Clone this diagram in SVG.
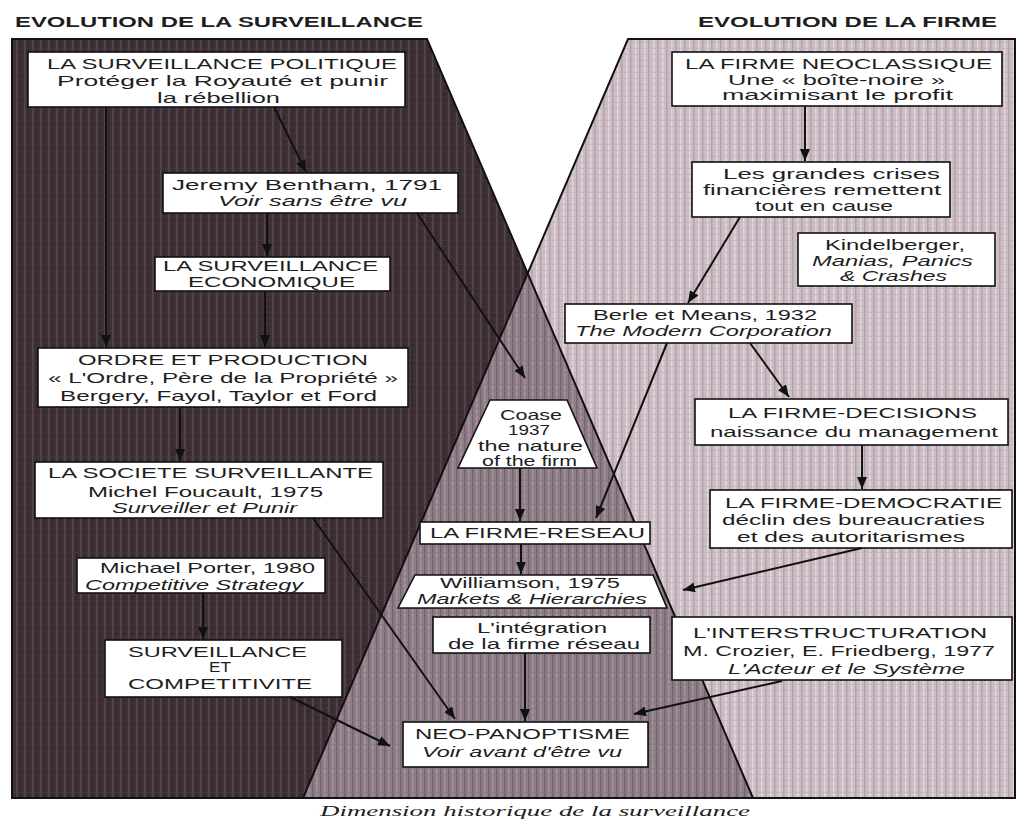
<svg xmlns="http://www.w3.org/2000/svg" width="1019" height="822" viewBox="0 0 1019 822">
<style>
.t{font-family:"Liberation Sans",Arial,sans-serif;font-size:15px;fill:#1e1e1e}
.s{font-size:14px}
.i{font-style:italic}
.h{font-family:"Liberation Sans",Arial,sans-serif;font-size:14px;font-weight:bold;fill:#1e1e1e}
.cap{font-family:"Liberation Serif","Times New Roman",serif;font-size:15px;font-style:italic;fill:#222}
.box{fill:#fff;stroke:#111;stroke-width:1.6}
.edge{fill:none;stroke:#111;stroke-width:2}
.c{fill:none;stroke:#111;stroke-width:2;marker-end:url(#ah)}
</style>
<defs>
<marker id="ah" markerUnits="userSpaceOnUse" markerWidth="13" markerHeight="10" refX="12" refY="5" orient="auto">
<path d="M0,0 L12,5 L0,10 z" fill="#111"/>
</marker>
<pattern id="pDark" patternUnits="userSpaceOnUse" width="8" height="6">
<rect width="8" height="6" fill="#3d2f35"/>
<rect x="0" width="1.5" height="6" fill="#56474d"/>
<rect x="4" width="1" height="6" fill="#30242a"/>
<rect width="8" height="1" fill="#4a3b41" opacity="0.6"/>
</pattern>
<pattern id="pLight" patternUnits="userSpaceOnUse" width="9" height="6">
<rect width="9" height="6" fill="#cdbdc5"/>
<rect x="0" width="1.5" height="6" fill="#b4a1ab"/>
<rect x="5" width="1.5" height="6" fill="#e2d7dd"/>
<rect width="9" height="1" fill="#bfaeb7" opacity="0.6"/>
</pattern>
<pattern id="pMid" patternUnits="userSpaceOnUse" width="8" height="6">
<rect width="8" height="6" fill="#8f7e87"/>
<rect x="0" width="1.5" height="6" fill="#766570"/>
<rect x="4" width="1.5" height="6" fill="#a5949d"/>
<rect width="8" height="1" fill="#85747d" opacity="0.6"/>
</pattern>
</defs>
<rect width="1019" height="822" fill="#fff"/>

<g id="background">
<polygon points="12,39 427,39 753,798 12,798" fill="url(#pDark)"/>
<polygon points="628,39 1015,39 1015,798 303,798" fill="url(#pLight)"/>
<polygon points="527.7,273.4 753,798 303,798" fill="url(#pMid)"/>
<polygon points="12,39 427,39 753,798 12,798" class="edge"/>
<polygon points="628,39 1015,39 1015,798 303,798" class="edge"/>
</g>

<g id="titles">
<text class="h" x="15" y="27" textLength="408" lengthAdjust="spacingAndGlyphs">EVOLUTION DE LA SURVEILLANCE</text>
<text class="h" x="698" y="27" textLength="299" lengthAdjust="spacingAndGlyphs">EVOLUTION DE LA FIRME</text>
</g>

<g id="n-politique">
<rect class="box" x="28" y="52" width="377" height="55"/>
<text class="t" x="47" y="69" textLength="350" lengthAdjust="spacingAndGlyphs">LA SURVEILLANCE POLITIQUE</text>
<text class="t" x="57" y="86" textLength="331" lengthAdjust="spacingAndGlyphs">Protéger la Royauté et punir</text>
<text class="t" x="157" y="103" textLength="123" lengthAdjust="spacingAndGlyphs">la rébellion</text>
</g>

<g id="n-bentham">
<rect class="box" x="163" y="173" width="295" height="40"/>
<text class="t" x="172" y="190" textLength="270" lengthAdjust="spacingAndGlyphs">Jeremy Bentham, 1791</text>
<text class="t i" x="218" y="206" textLength="189" lengthAdjust="spacingAndGlyphs">Voir sans être vu</text>
</g>

<g id="n-economique">
<rect class="box" x="155" y="257" width="235" height="34"/>
<text class="t" x="163" y="271" textLength="215" lengthAdjust="spacingAndGlyphs">LA SURVEILLANCE</text>
<text class="t" x="188" y="287" textLength="167" lengthAdjust="spacingAndGlyphs">ECONOMIQUE</text>
</g>

<g id="n-ordre">
<rect class="box" x="38" y="348" width="370" height="59"/>
<text class="t" x="78" y="365" textLength="290" lengthAdjust="spacingAndGlyphs">ORDRE ET PRODUCTION</text>
<text class="t" x="48" y="383" textLength="350" lengthAdjust="spacingAndGlyphs">« L'Ordre, Père de la Propriété »</text>
<text class="t" x="60" y="401" textLength="317" lengthAdjust="spacingAndGlyphs">Bergery, Fayol, Taylor et Ford</text>
</g>

<g id="n-societe">
<rect class="box" x="35" y="462" width="348" height="56"/>
<text class="t" x="48" y="478" textLength="325" lengthAdjust="spacingAndGlyphs">LA SOCIETE SURVEILLANTE</text>
<text class="t" x="88" y="497" textLength="235" lengthAdjust="spacingAndGlyphs">Michel Foucault, 1975</text>
<text class="t i" x="112" y="513" textLength="185" lengthAdjust="spacingAndGlyphs">Surveiller et Punir</text>
</g>

<g id="n-porter">
<rect class="box" x="77" y="558" width="248" height="35"/>
<text class="t" x="100" y="573" textLength="215" lengthAdjust="spacingAndGlyphs">Michael Porter, 1980</text>
<text class="t i" x="85" y="590" textLength="218" lengthAdjust="spacingAndGlyphs">Competitive Strategy</text>
</g>

<g id="n-competitivite">
<rect class="box" x="105" y="640" width="237" height="57"/>
<text class="t" x="128" y="657" textLength="179" lengthAdjust="spacingAndGlyphs">SURVEILLANCE</text>
<text class="t" x="209" y="672" textLength="22" lengthAdjust="spacingAndGlyphs">ET</text>
<text class="t" x="128" y="689" textLength="184" lengthAdjust="spacingAndGlyphs">COMPETITIVITE</text>
</g>

<g id="n-neopanoptisme">
<rect class="box" x="403" y="722" width="245" height="45"/>
<text class="t" x="415" y="739" textLength="215" lengthAdjust="spacingAndGlyphs">NEO-PANOPTISME</text>
<text class="t i" x="422" y="757" textLength="200" lengthAdjust="spacingAndGlyphs">Voir avant d'être vu</text>
</g>

<g id="n-neoclassique">
<rect class="box" x="672" y="52" width="330" height="54"/>
<text class="t" x="685" y="69" textLength="307" lengthAdjust="spacingAndGlyphs">LA FIRME NEOCLASSIQUE</text>
<text class="t" x="728" y="85" textLength="217" lengthAdjust="spacingAndGlyphs">Une « boîte-noire »</text>
<text class="t" x="722" y="100" textLength="231" lengthAdjust="spacingAndGlyphs">maximisant le profit</text>
</g>

<g id="n-crises">
<rect class="box" x="692" y="162" width="258" height="55"/>
<text class="t s" x="723" y="179" textLength="217" lengthAdjust="spacingAndGlyphs">Les grandes crises</text>
<text class="t s" x="703" y="195" textLength="238" lengthAdjust="spacingAndGlyphs">financières remettent</text>
<text class="t s" x="755" y="211" textLength="138" lengthAdjust="spacingAndGlyphs">tout en cause</text>
</g>

<g id="n-kindelberger">
<rect class="box" x="798" y="233" width="197" height="53"/>
<text class="t" x="825" y="250" textLength="140" lengthAdjust="spacingAndGlyphs">Kindelberger,</text>
<text class="t i" x="812" y="266" textLength="161" lengthAdjust="spacingAndGlyphs">Manias, Panics</text>
<text class="t i" x="840" y="281" textLength="107" lengthAdjust="spacingAndGlyphs">&amp; Crashes</text>
</g>

<g id="n-berle">
<rect class="box" x="565" y="304" width="287" height="39"/>
<text class="t" x="593" y="320" textLength="224" lengthAdjust="spacingAndGlyphs">Berle et Means, 1932</text>
<text class="t i" x="575" y="336" textLength="257" lengthAdjust="spacingAndGlyphs">The Modern Corporation</text>
</g>

<g id="n-decisions">
<rect class="box" x="695" y="399" width="313" height="46"/>
<text class="t" x="728" y="418" textLength="249" lengthAdjust="spacingAndGlyphs">LA FIRME-DECISIONS</text>
<text class="t" x="710" y="437" textLength="288" lengthAdjust="spacingAndGlyphs">naissance du management</text>
</g>

<g id="n-democratie">
<rect class="box" x="710" y="490" width="302" height="58"/>
<text class="t" x="725" y="508" textLength="277" lengthAdjust="spacingAndGlyphs">LA FIRME-DEMOCRATIE</text>
<text class="t" x="722" y="525" textLength="263" lengthAdjust="spacingAndGlyphs">déclin des bureaucraties</text>
<text class="t" x="737" y="542" textLength="228" lengthAdjust="spacingAndGlyphs">et des autoritarismes</text>
</g>

<g id="n-interstructuration">
<rect class="box" x="672" y="617" width="340" height="63"/>
<text class="t" x="693" y="638" textLength="294" lengthAdjust="spacingAndGlyphs">L'INTERSTRUCTURATION</text>
<text class="t" x="683" y="656" textLength="312" lengthAdjust="spacingAndGlyphs">M. Crozier, E. Friedberg, 1977</text>
<text class="t i" x="728" y="674" textLength="237" lengthAdjust="spacingAndGlyphs">L'Acteur et le Système</text>
</g>

<g id="n-coase">
<polygon class="box" points="490,400 567,400 597,468 458,468"/>
<text class="t" x="500" y="420" textLength="62" lengthAdjust="spacingAndGlyphs">Coase</text>
<text class="t" x="508" y="435" textLength="42" lengthAdjust="spacingAndGlyphs">1937</text>
<text class="t" x="478" y="451" textLength="105" lengthAdjust="spacingAndGlyphs">the nature</text>
<text class="t" x="482" y="466" textLength="95" lengthAdjust="spacingAndGlyphs">of the firm</text>
</g>

<g id="n-firme-reseau">
<rect class="box" x="420" y="522" width="230" height="22"/>
<text class="t" x="430" y="538" textLength="215" lengthAdjust="spacingAndGlyphs">LA FIRME-RESEAU</text>
</g>

<g id="n-williamson">
<polygon class="box" points="415,575 653,575 667,608 398,608"/>
<text class="t" x="440" y="588" textLength="180" lengthAdjust="spacingAndGlyphs">Williamson, 1975</text>
<text class="t i" x="417" y="604" textLength="230" lengthAdjust="spacingAndGlyphs">Markets &amp; Hierarchies</text>
</g>

<g id="n-integration">
<rect class="box" x="433" y="617" width="217" height="36"/>
<text class="t" x="477" y="633" textLength="130" lengthAdjust="spacingAndGlyphs">L'intégration</text>
<text class="t" x="448" y="649" textLength="192" lengthAdjust="spacingAndGlyphs">de la firme réseau</text>
</g>

<g id="connectors">
<line class="c" x1="106" y1="107" x2="106" y2="347"/>
<line class="c" x1="274" y1="107" x2="306" y2="172"/>
<line class="c" x1="267" y1="213" x2="267" y2="256"/>
<line class="c" x1="265" y1="291" x2="265" y2="347"/>
<line class="c" x1="417" y1="213" x2="525" y2="378"/>
<line class="c" x1="180" y1="407" x2="180" y2="461"/>
<line class="c" x1="313" y1="518" x2="455" y2="719"/>
<line class="c" x1="203" y1="593" x2="203" y2="639"/>
<line class="c" x1="290" y1="697" x2="390" y2="746"/>
<line class="c" x1="805" y1="106" x2="805" y2="161"/>
<line class="c" x1="740" y1="217" x2="688" y2="303"/>
<line class="c" x1="750" y1="343" x2="789" y2="397"/>
<line class="c" x1="667" y1="343" x2="596" y2="518"/>
<line class="c" x1="862" y1="445" x2="862" y2="489"/>
<line class="c" x1="862" y1="548" x2="683" y2="590"/>
<line class="c" x1="520" y1="468" x2="520" y2="521"/>
<line class="c" x1="521" y1="544" x2="521" y2="574"/>
<line class="c" x1="525" y1="653" x2="525" y2="721"/>
<line class="c" x1="782" y1="681" x2="634" y2="714"/>
</g>

<text class="cap" x="320" y="816" textLength="430" lengthAdjust="spacingAndGlyphs">Dimension historique de la surveillance</text>
</svg>
